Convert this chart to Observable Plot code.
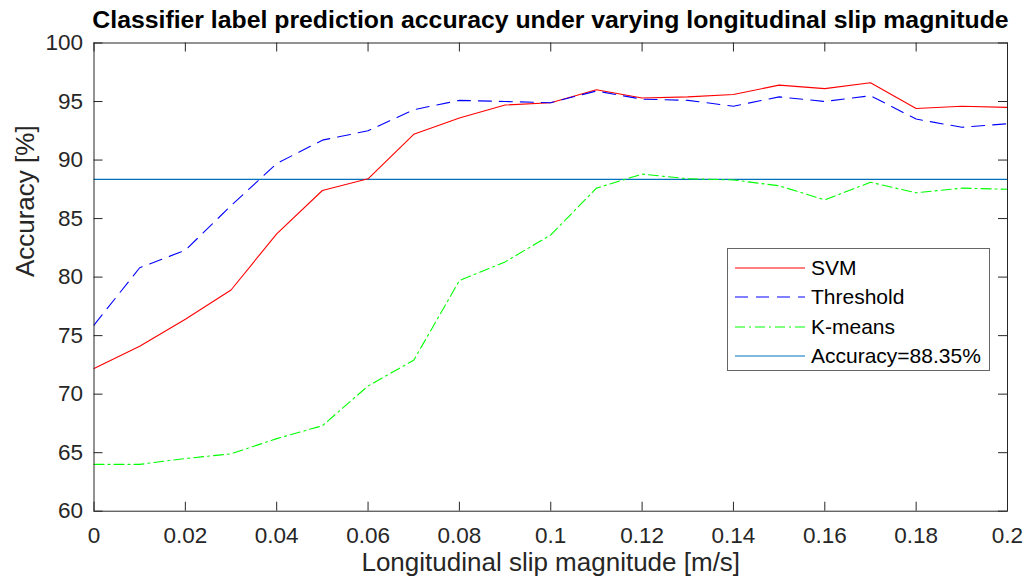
<!DOCTYPE html>
<html><head><meta charset="utf-8">
<script src="https://cdn.jsdelivr.net/npm/d3@7"></script>
<script src="https://cdn.jsdelivr.net/npm/@observablehq/plot@0.6"></script>
<style>
body{margin:0;background:#fff;}
#wrap{position:relative;width:1032px;height:586px;font-family:"Liberation Sans",Arial,Helvetica,sans-serif;color:#000;overflow:hidden;}
#title{position:absolute;left:0;top:6px;width:1101px;text-align:center;font-weight:bold;font-size:24.8px;line-height:28px;white-space:nowrap;}
#legend{position:absolute;left:727px;top:248px;width:261px;height:121px;border:1px solid #666;background:#fff;}
.row{position:absolute;left:0;height:28px;width:100%;}
.row svg{position:absolute;left:7px;top:0;}
.row span{position:absolute;left:83px;top:1px;font-size:21px;line-height:25px;white-space:nowrap;color:#000;}
</style></head>
<body>
<div id="wrap">
<div id="chart"></div>
<div id="title"></div>
<div id="legend"></div>
</div>
<script>
const titleText = "Classifier label prediction accuracy under varying longitudinal slip magnitude";
const xLabel = "Longitudinal slip magnitude [m/s]";
const yLabel = "Accuracy [%]";

const slip = [0, 0.01, 0.02, 0.03, 0.04, 0.05, 0.06, 0.07, 0.08, 0.09, 0.10, 0.11, 0.12, 0.13, 0.14, 0.15, 0.16, 0.17, 0.18, 0.19, 0.20];
const svm = [72.2, 74.1, 76.4, 78.9, 83.7, 87.4, 88.4, 92.2, 93.6, 94.7, 94.9, 96.0, 95.3, 95.4, 95.6, 96.4, 96.1, 96.6, 94.4, 94.6, 94.5];
const threshold = [75.9, 80.8, 82.3, 86.1, 89.7, 91.7, 92.5, 94.3, 95.1, 95.0, 94.9, 95.9, 95.2, 95.1, 94.6, 95.4, 95.0, 95.5, 93.5, 92.8, 93.1];
const kmeans = [64.0, 64.0, 64.5, 64.9, 66.2, 67.3, 70.7, 72.9, 79.7, 81.3, 83.6, 87.6, 88.8, 88.4, 88.3, 87.8, 86.6, 88.1, 87.2, 87.6, 87.5];
const accuracyRef = 88.35;

const seriesNames = ["SVM", "Threshold", "K-means", "Accuracy=88.35%"];
const seriesColors = ["#ff0000", "#0000ff", "#00ff00", "#0072bd"];
const seriesDash = [null, "13,8", "10,4,2,4", null];

const xTicks = [0, 0.02, 0.04, 0.06, 0.08, 0.1, 0.12, 0.14, 0.16, 0.18, 0.2];
const xTickLabels = ["0", "0.02", "0.04", "0.06", "0.08", "0.1", "0.12", "0.14", "0.16", "0.18", "0.2"];
const yTicks = [60, 65, 70, 75, 80, 85, 90, 95, 100];
const yTickLabels = ["60", "65", "70", "75", "80", "85", "90", "95", "100"];

const W = 1032, H = 586;
const mL = 93.5, mR = 25, mT = 42.5, mB = 75.3;
const innerW = W - mL - mR, innerH = H - mT - mB;
const tickLen = 9;
const axisColor = "#262626";

const rows = (vals) => slip.map((x, i) => ({x, y: vals[i]}));
const seriesVals = [svm, threshold, kmeans];

const lineMarks = seriesVals.map((vals, i) =>
  Plot.line(rows(vals), {x: "x", y: "y", stroke: seriesColors[i], strokeWidth: 1.1, strokeDasharray: seriesDash[i]})
);

const chart = Plot.plot({
  width: W, height: H,
  marginLeft: mL, marginRight: mR, marginTop: mT, marginBottom: mB,
  style: {fontFamily: '"Liberation Sans", Arial, Helvetica, sans-serif', background: "#fff", color: "#000", overflow: "visible"},
  x: {domain: [0, 0.2]},
  y: {domain: [60, 100]},
  marks: [
    Plot.ruleY([accuracyRef], {stroke: seriesColors[3], strokeWidth: 1.1}),
    ...lineMarks,
    Plot.frame({stroke: axisColor, strokeWidth: 1}),
    Plot.tickX(xTicks, {x: d => d, insetTop: innerH - tickLen, stroke: axisColor}),
    Plot.tickX(xTicks, {x: d => d, insetBottom: innerH - tickLen, stroke: axisColor}),
    Plot.tickY(yTicks, {y: d => d, insetRight: innerW - tickLen, stroke: axisColor}),
    Plot.tickY(yTicks, {y: d => d, insetLeft: innerW - tickLen, stroke: axisColor}),
    Plot.axisX(xTicks, {anchor: "bottom", tickSize: 0, tickPadding: 16, fontSize: 22.5, fill: axisColor,
      tickFormat: d => xTickLabels[xTicks.indexOf(d)], label: null}),
    Plot.axisY(yTicks, {anchor: "left", tickSize: 0, tickPadding: 11, fontSize: 22.5, fill: axisColor,
      tickFormat: d => yTickLabels[yTicks.indexOf(d)], label: null}),
    Plot.text([xLabel], {frameAnchor: "bottom", dy: 60, fontSize: 26, fill: axisColor}),
    Plot.text([yLabel], {frameAnchor: "left", rotate: -90, dx: -68, fontSize: 26, fill: axisColor})
  ]
});
document.getElementById("chart").appendChild(chart);
document.getElementById("title").textContent = titleText;

const legend = document.getElementById("legend");
const rowTops = [5, 34, 64, 93];
seriesNames.forEach((name, i) => {
  const r = document.createElement("div");
  r.className = "row";
  r.style.top = rowTops[i] + "px";
  const dash = seriesDash[i] ? ` stroke-dasharray="${seriesDash[i]}"` : "";
  r.innerHTML = `<svg width="72" height="28"><line x1="0" y1="14" x2="70" y2="14" stroke="${seriesColors[i]}" stroke-width="1.1"${dash}/></svg><span></span>`;
  r.querySelector("span").textContent = name;
  legend.appendChild(r);
});
</script>
</body></html>
